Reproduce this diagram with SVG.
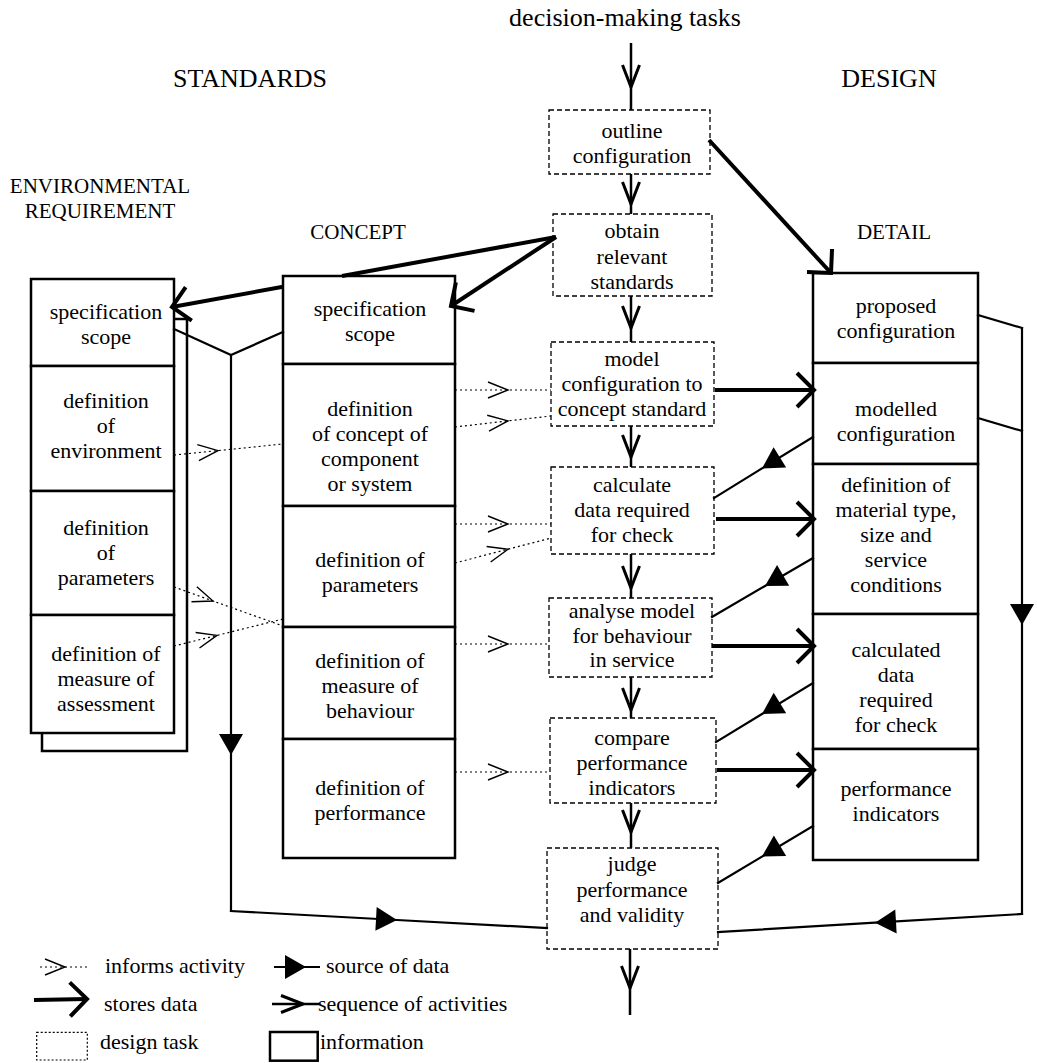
<svg xmlns="http://www.w3.org/2000/svg" width="1037" height="1063" viewBox="0 0 1037 1063">
<style>
.t{font-family:"Liberation Serif","Times New Roman",serif;font-size:22px;text-anchor:middle;fill:#000}
.l{text-anchor:start}
.h{font-size:26px}
.s{font-size:21px}
.info{fill:#fff;stroke:#000;stroke-width:2.5}
.task{fill:#fff;stroke:#000;stroke-width:1.3;stroke-dasharray:5 3}
.seq{stroke:#000;stroke-width:2.5;fill:none;marker-mid:url(#mSeq)}
.store{stroke:#000;stroke-width:4;fill:none;marker-end:url(#mStore)}
.src{stroke:#000;stroke-width:2.2;fill:none;stroke-linecap:square}
.srcm{marker-mid:url(#mSrc)}
.inf{stroke:#000;stroke-width:1.2;stroke-dasharray:2 3;fill:none;marker-mid:url(#mInf)}
</style>
<defs>
<marker id="mSeq" markerUnits="userSpaceOnUse" viewBox="-26 -12 30 24" markerWidth="30" markerHeight="24" refX="0" refY="0" orient="auto" overflow="visible"><path d="M-22,-8.5 L0,0 L-22,8.5" fill="none" stroke="#000" stroke-width="3"/></marker>
<marker id="mStore" markerUnits="userSpaceOnUse" viewBox="-22 -22 26 44" markerWidth="26" markerHeight="44" refX="0" refY="0" orient="auto" overflow="visible"><path d="M-17,-17 L0,0 L-17,17" fill="none" stroke="#000" stroke-width="4"/></marker>
<marker id="mSrc" markerUnits="userSpaceOnUse" viewBox="-24 -14 26 28" markerWidth="26" markerHeight="28" refX="0" refY="0" orient="auto" overflow="visible"><path d="M-21,-12 L0,0 L-21,12 Z" fill="#000"/></marker>
<marker id="mInf" markerUnits="userSpaceOnUse" viewBox="-24 -12 26 24" markerWidth="26" markerHeight="24" refX="0" refY="0" orient="auto" overflow="visible"><path d="M-20,-8 L0,0 L-20,8" fill="none" stroke="#000" stroke-width="1.4"/></marker>
</defs>
<rect width="1037" height="1063" fill="#fff"/>

<g id="headings">
<text class="t h" x="625" y="26">decision-making tasks</text>
<text class="t h" x="250" y="87">STANDARDS</text>
<text class="t h" x="889" y="87">DESIGN</text>
<text class="t s" x="100" y="193">ENVIRONMENTAL</text>
<text class="t s" x="100" y="218">REQUIREMENT</text>
<text class="t s" x="358" y="239">CONCEPT</text>
<text class="t s" x="894" y="239">DETAIL</text>
</g>

<g id="env-shadow"><path d="M174,319 H187 V751 H42 V733" fill="none" stroke="#000" stroke-width="2.5"/></g>

<g id="env-spec"><rect class="info" x="31" y="279" width="143" height="87"/><text class="t" x="106"><tspan x="106" y="319">specification</tspan><tspan x="106" y="344">scope</tspan></text></g>
<g id="env-environment"><rect class="info" x="31" y="366" width="143" height="125"/><text class="t"><tspan x="106" y="408">definition</tspan><tspan x="106" y="433">of</tspan><tspan x="106" y="458">environment</tspan></text></g>
<g id="env-parameters"><rect class="info" x="31" y="491" width="143" height="124"/><text class="t"><tspan x="106" y="535">definition</tspan><tspan x="106" y="560">of</tspan><tspan x="106" y="585">parameters</tspan></text></g>
<g id="env-measure"><rect class="info" x="31" y="615" width="143" height="118"/><text class="t"><tspan x="106" y="661">definition of</tspan><tspan x="106" y="686">measure of</tspan><tspan x="106" y="711">assessment</tspan></text></g>

<g id="con-spec"><rect class="info" x="283" y="276" width="172" height="88"/><text class="t"><tspan x="370" y="316">specification</tspan><tspan x="370" y="341">scope</tspan></text></g>
<g id="con-concept"><rect class="info" x="283" y="364" width="172" height="142"/><text class="t"><tspan x="370" y="416">definition</tspan><tspan x="370" y="441">of concept of</tspan><tspan x="370" y="466">component</tspan><tspan x="370" y="491">or system</tspan></text></g>
<g id="con-parameters"><rect class="info" x="283" y="506" width="172" height="121"/><text class="t"><tspan x="370" y="567">definition of</tspan><tspan x="370" y="592">parameters</tspan></text></g>
<g id="con-measure"><rect class="info" x="283" y="627" width="172" height="112"/><text class="t"><tspan x="370" y="668">definition of</tspan><tspan x="370" y="693">measure of</tspan><tspan x="370" y="718">behaviour</tspan></text></g>
<g id="con-performance"><rect class="info" x="283" y="739" width="172" height="119"/><text class="t"><tspan x="370" y="795">definition of</tspan><tspan x="370" y="820">performance</tspan></text></g>

<g id="task-outline"><rect class="task" x="549" y="110" width="161" height="64"/><text class="t"><tspan x="632" y="138">outline</tspan><tspan x="632" y="163">configuration</tspan></text></g>
<g id="task-obtain"><rect class="task" x="553" y="214" width="159" height="82"/><text class="t"><tspan x="632" y="238">obtain</tspan><tspan x="632" y="264">relevant</tspan><tspan x="632" y="289">standards</tspan></text></g>
<g id="task-model"><rect class="task" x="551" y="342" width="163" height="84"/><text class="t"><tspan x="632" y="366">model</tspan><tspan x="632" y="391">configuration to</tspan><tspan x="632" y="416">concept standard</tspan></text></g>
<g id="task-calculate"><rect class="task" x="551" y="467" width="163" height="87"/><text class="t"><tspan x="632" y="492">calculate</tspan><tspan x="632" y="517">data required</tspan><tspan x="632" y="542">for check</tspan></text></g>
<g id="task-analyse"><rect class="task" x="549" y="598" width="163" height="79"/><text class="t"><tspan x="632" y="618">analyse model</tspan><tspan x="632" y="643">for behaviour</tspan><tspan x="632" y="667">in service</tspan></text></g>
<g id="task-compare"><rect class="task" x="550" y="718" width="166" height="85"/><text class="t"><tspan x="632" y="745">compare</tspan><tspan x="632" y="770">performance</tspan><tspan x="632" y="795">indicators</tspan></text></g>
<g id="task-judge"><rect class="task" x="547" y="848" width="171" height="101"/><text class="t"><tspan x="632" y="871">judge</tspan><tspan x="632" y="897">performance</tspan><tspan x="632" y="922">and validity</tspan></text></g>

<g id="det-proposed"><rect class="info" x="813" y="273" width="165" height="90"/><text class="t"><tspan x="896" y="313">proposed</tspan><tspan x="896" y="338">configuration</tspan></text></g>
<g id="det-modelled"><rect class="info" x="813" y="363" width="165" height="101"/><text class="t"><tspan x="896" y="416">modelled</tspan><tspan x="896" y="441">configuration</tspan></text></g>
<g id="det-material"><rect class="info" x="813" y="464" width="165" height="150"/><text class="t"><tspan x="896" y="492">definition of</tspan><tspan x="896" y="517">material type,</tspan><tspan x="896" y="542">size and</tspan><tspan x="896" y="567">service</tspan><tspan x="896" y="592">conditions</tspan></text></g>
<g id="det-calculated"><rect class="info" x="813" y="614" width="165" height="135"/><text class="t"><tspan x="896" y="657">calculated</tspan><tspan x="896" y="682">data</tspan><tspan x="896" y="707">required</tspan><tspan x="896" y="732">for check</tspan></text></g>
<g id="det-performance"><rect class="info" x="813" y="749" width="165" height="111"/><text class="t"><tspan x="896" y="796">performance</tspan><tspan x="896" y="821">indicators</tspan></text></g>

<g id="connectors">
<path class="seq" d="M631,43 L631,87 L631,110"/>
<path class="seq" d="M631,174 L631,204 L631,214"/>
<path class="seq" d="M631,296 L631,328 L631,342"/>
<path class="seq" d="M631,426 L631,457 L631,467"/>
<path class="seq" d="M631,554 L631,588 L631,598"/>
<path class="seq" d="M631,677 L631,710 L631,718"/>
<path class="seq" d="M631,803 L631,832 L631,848"/>
<path class="seq" d="M630,949 L630,988 L630,1015"/>

<path class="store" d="M709,140 L831,273"/>
<path class="store" d="M556,237 L342,276 M283,286.8 L172,307"/>
<path class="store" d="M556,237 L451,306"/>
<path class="store" d="M715,390 L814,390"/>
<path class="store" d="M716,519 L814,519"/>
<path class="store" d="M712,646 L814,646"/>
<path class="store" d="M717,770 L814,770"/>

<path class="inf" d="M455,390 L508,390 L551,390"/>
<path class="inf" d="M455,427 L508,420.9 L551,416"/>
<path class="inf" d="M455,524 L508,524 L551,524"/>
<path class="inf" d="M455,563 L508,549.2 L551,538"/>
<path class="inf" d="M455,644 L508,644 L549,644"/>
<path class="inf" d="M455,772 L508,772 L550,772"/>
<path class="inf" d="M174,455 L218,450.6 L283,444"/>
<path class="inf" d="M174,587 L213,601 L283,626"/>
<path class="inf" d="M174,646 L217,635.4 L283,619"/>

<path class="src" d="M174,329 L231,355 L283,332"/>
<path class="src srcm" d="M231,355 L231,755 L231,911"/>
<path class="src srcm" d="M231,911 L397,920 L547,928"/>
<path class="src" d="M978,315 L1022,328"/>
<path class="src" d="M978,418 L1022,431"/>
<path class="src srcm" d="M1022,328 L1022,625 L1022,914"/>
<path class="src srcm" d="M1022,914 L875,922.7 L718,932"/>
<path class="src srcm" d="M813,437 L762,468.4 L714,498"/>
<path class="src srcm" d="M813,558 L765,586 L712,617"/>
<path class="src srcm" d="M813,683 L762,714 L716,742"/>
<path class="src srcm" d="M813,826 L762,856.6 L718,883"/>
</g>

<g id="legend">
<path class="inf" d="M40,967 L65,967 L87,967"/>
<text class="t l" x="105" y="973">informs activity</text>
<path class="src srcm" style="stroke-linecap:butt" d="M274,967 L306,967 L320,967"/>
<text class="t l" x="326" y="973">source of data</text>
<path class="store" d="M34,1000 L87,999"/>
<text class="t l" x="104" y="1011">stores data</text>
<path class="seq" d="M272,1004 L303,1004 L320,1004"/>
<text class="t l" x="318" y="1011">sequence of activities</text>
<rect x="36.7" y="1032.3" width="50.6" height="27.7" fill="none" stroke="#000" stroke-width="1.2" stroke-dasharray="2 2"/>
<text class="t l" x="100" y="1049">design task</text>
<rect x="270" y="1032" width="47.7" height="28.7" fill="none" stroke="#000" stroke-width="2.5"/>
<text class="t l" x="320" y="1049">information</text>
</g>
</svg>
